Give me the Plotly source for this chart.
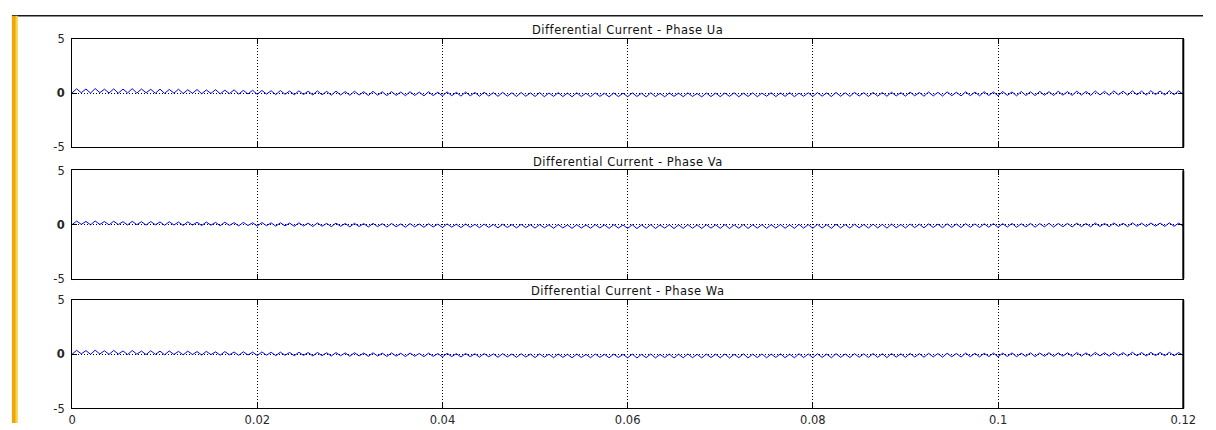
import plotly.graph_objects as go

# ---- data -----------------------------------------------------------------
# Differential current samples (A), one value every half cycle of the ripple,
# starting at t = 0 s and ending at t = 0.12 s.
SAMPLE_STEP = 0.0005

phase_ua = [
    0.02, 0.40, 0.03, 0.38, 0.00, 0.42, 0.04, 0.36, 0.01, 0.39, -0.01, 0.37, 0.02, 0.41, 0.00, 0.38, 0.03, 0.35, -0.02, 0.37,
    -0.03, 0.34, 0.00, 0.36, -0.04, 0.31, -0.02, 0.33, -0.06, 0.29, -0.03, 0.32, -0.07, 0.27, -0.05, 0.30, -0.09, 0.25, -0.08, 0.26,
    -0.12, 0.25, -0.09, 0.22, -0.14, 0.24, -0.11, 0.19, -0.15, 0.21, -0.13, 0.17, -0.17, 0.20, -0.15, 0.16, -0.19, 0.18, -0.17, 0.14,
    -0.20, 0.17, -0.18, 0.13, -0.22, 0.16, -0.19, 0.12, -0.23, 0.14, -0.21, 0.10, -0.24, 0.13, -0.22, 0.09, -0.25, 0.12, -0.23, 0.08,
    -0.26, 0.11, -0.24, 0.07, -0.28, 0.10, -0.25, 0.06, -0.29, 0.08, -0.27, 0.05, -0.30, 0.07, -0.28, 0.03, -0.31, 0.06, -0.29, 0.02,
    -0.31, 0.05, -0.33, 0.01, -0.30, 0.04, -0.32, 0.00, -0.34, 0.03, -0.31, -0.01, -0.33, 0.02, -0.30, -0.02, -0.34, 0.01, -0.32, -0.01,
    -0.33, 0.02, -0.31, -0.01, -0.35, 0.03, -0.32, -0.02, -0.34, 0.01, -0.30, -0.01, -0.33, 0.02, -0.31, -0.03, -0.35, 0.01, -0.32, 0.00,
    -0.33, 0.01, -0.30, 0.03, -0.34, -0.01, -0.31, 0.02, -0.33, 0.00, -0.29, 0.03, -0.32, 0.01, -0.30, 0.04, -0.33, 0.00, -0.29, 0.03,
    -0.31, 0.05, -0.28, 0.02, -0.32, 0.06, -0.29, 0.03, -0.30, 0.07, -0.27, 0.04, -0.31, 0.06, -0.28, 0.05, -0.29, 0.08, -0.26, 0.04,
    -0.28, 0.09, -0.25, 0.06, -0.29, 0.10, -0.26, 0.07, -0.27, 0.11, -0.24, 0.08, -0.26, 0.12, -0.23, 0.09, -0.25, 0.13, -0.22, 0.10,
    -0.24, 0.14, -0.21, 0.11, -0.25, 0.15, -0.22, 0.12, -0.23, 0.16, -0.20, 0.13, -0.22, 0.17, -0.19, 0.14, -0.21, 0.18, -0.18, 0.15,
    -0.21, 0.19, -0.17, 0.16, -0.20, 0.20, -0.16, 0.17, -0.19, 0.21, -0.15, 0.18, -0.18, 0.22, -0.14, 0.19, -0.17, 0.21, -0.15, 0.20,
    -0.12,
]

phase_va = [
    0.00, 0.33, 0.03, 0.30, -0.01, 0.34, 0.02, 0.29, -0.02, 0.32, 0.01, 0.28, -0.03, 0.31, 0.00, 0.27, -0.04, 0.29, -0.01, 0.25,
    -0.06, 0.27, -0.03, 0.24, -0.07, 0.26, -0.04, 0.22, -0.08, 0.24, -0.05, 0.21, -0.10, 0.23, -0.07, 0.19, -0.11, 0.21, -0.08, 0.18,
    -0.13, 0.20, -0.10, 0.17, -0.14, 0.18, -0.11, 0.15, -0.15, 0.17, -0.12, 0.14, -0.17, 0.16, -0.14, 0.12, -0.18, 0.14, -0.15, 0.11,
    -0.20, 0.13, -0.17, 0.10, -0.21, 0.12, -0.18, 0.09, -0.22, 0.11, -0.19, 0.07, -0.23, 0.10, -0.20, 0.06, -0.24, 0.08, -0.21, 0.05,
    -0.26, 0.07, -0.23, 0.04, -0.27, 0.06, -0.24, 0.03, -0.28, 0.05, -0.25, 0.02, -0.29, 0.04, -0.26, 0.01, -0.30, 0.03, -0.27, 0.00,
    -0.32, 0.02, -0.29, -0.01, -0.33, 0.01, -0.30, -0.02, -0.34, 0.00, -0.31, -0.03, -0.33, 0.01, -0.30, -0.02, -0.34, 0.00, -0.31, -0.03,
    -0.34, 0.00, -0.36, -0.02, -0.33, 0.01, -0.35, -0.03, -0.32, 0.00, -0.36, -0.01, -0.34, 0.01, -0.33, -0.02, -0.35, 0.00, -0.32, -0.01,
    -0.34, 0.01, -0.36, -0.02, -0.33, 0.02, -0.35, -0.01, -0.32, 0.01, -0.34, 0.00, -0.31, 0.02, -0.33, -0.01, -0.34, 0.03, -0.32, 0.01,
    -0.33, 0.03, -0.31, 0.00, -0.34, 0.04, -0.30, 0.01, -0.32, 0.04, -0.29, 0.02, -0.31, 0.05, -0.30, 0.03, -0.32, 0.05, -0.28, 0.02,
    -0.30, 0.06, -0.27, 0.04, -0.29, 0.07, -0.26, 0.05, -0.28, 0.08, -0.25, 0.06, -0.27, 0.09, -0.24, 0.07, -0.26, 0.08, -0.23, 0.10,
    -0.25, 0.09, -0.22, 0.11, -0.24, 0.08, -0.21, 0.12, -0.23, 0.10, -0.20, 0.13, -0.22, 0.11, -0.19, 0.12, -0.21, 0.14, -0.18, 0.11,
    -0.20, 0.15, -0.17, 0.12, -0.19, 0.16, -0.16, 0.13, -0.18, 0.17, -0.15, 0.14, -0.17, 0.16, -0.14, 0.15, -0.16, 0.17, -0.15, 0.14,
    -0.13,
]

phase_wa = [
    0.01, 0.37, 0.04, 0.34, 0.00, 0.38, 0.03, 0.33, -0.01, 0.36, 0.02, 0.31, -0.02, 0.35, 0.01, 0.30, -0.03, 0.33, 0.00, 0.29,
    -0.04, 0.31, -0.01, 0.27, -0.05, 0.29, -0.02, 0.25, -0.06, 0.27, -0.03, 0.23, -0.08, 0.25, -0.05, 0.21, -0.09, 0.23, -0.06, 0.20,
    -0.11, 0.22, -0.08, 0.19, -0.12, 0.20, -0.09, 0.17, -0.13, 0.19, -0.10, 0.16, -0.15, 0.17, -0.12, 0.14, -0.16, 0.16, -0.13, 0.13,
    -0.18, 0.15, -0.15, 0.12, -0.19, 0.14, -0.16, 0.11, -0.20, 0.13, -0.17, 0.10, -0.21, 0.12, -0.18, 0.08, -0.22, 0.11, -0.19, 0.07,
    -0.24, 0.09, -0.21, 0.06, -0.25, 0.08, -0.22, 0.05, -0.26, 0.07, -0.23, 0.04, -0.27, 0.06, -0.24, 0.03, -0.28, 0.05, -0.25, 0.02,
    -0.30, 0.04, -0.27, 0.01, -0.31, 0.03, -0.28, 0.00, -0.32, 0.02, -0.29, -0.01, -0.31, 0.03, -0.28, 0.00, -0.32, 0.02, -0.29, -0.01,
    -0.32, 0.02, -0.34, 0.00, -0.31, 0.03, -0.33, -0.01, -0.30, 0.02, -0.34, 0.01, -0.32, 0.03, -0.31, 0.00, -0.33, 0.02, -0.30, 0.01,
    -0.32, 0.03, -0.34, 0.00, -0.31, 0.04, -0.33, 0.01, -0.30, 0.03, -0.32, 0.02, -0.29, 0.04, -0.31, 0.01, -0.32, 0.05, -0.30, 0.03,
    -0.31, 0.05, -0.29, 0.02, -0.32, 0.06, -0.28, 0.03, -0.30, 0.06, -0.27, 0.04, -0.29, 0.07, -0.28, 0.05, -0.30, 0.07, -0.26, 0.04,
    -0.28, 0.08, -0.25, 0.06, -0.27, 0.09, -0.24, 0.07, -0.26, 0.10, -0.23, 0.08, -0.25, 0.11, -0.22, 0.09, -0.24, 0.10, -0.21, 0.12,
    -0.23, 0.11, -0.20, 0.13, -0.22, 0.10, -0.19, 0.14, -0.21, 0.12, -0.18, 0.15, -0.20, 0.13, -0.17, 0.14, -0.19, 0.16, -0.16, 0.13,
    -0.18, 0.17, -0.15, 0.14, -0.17, 0.18, -0.14, 0.15, -0.16, 0.19, -0.13, 0.16, -0.15, 0.18, -0.12, 0.17, -0.14, 0.19, -0.13, 0.16,
    -0.11,
]

panel_titles = [
    "Differential Current - Phase Ua",
    "Differential Current - Phase Va",
    "Differential Current - Phase Wa",
]
x_tick_values = [0, 0.02, 0.04, 0.06, 0.08, 0.1, 0.12]
x_tick_labels = ["0", "0.02", "0.04", "0.06", "0.08", "0.1", "0.12"]
y_tick_values = [-5, 0, 5]
y_tick_labels = ["-5", "<b>0</b>", "5"]

# ---- layout geometry (pixels) --------------------------------------------
W, H = 1216, 430
PLOT_LEFT, PLOT_RIGHT = 69, 1196
PANEL_TOPS = [33, 169, 303]
PANEL_HEIGHT = 112


def px_x(x):
    return x / W


def px_y(y):
    return 1 - y / H


time_axis = [round(i * SAMPLE_STEP, 6) for i in range(len(phase_ua))]
series = [phase_ua, phase_va, phase_wa]

fig = go.Figure()
annotations = []
TICK_FONT = dict(family="DejaVu Sans, Liberation Sans, sans-serif", size=11.5, color="#262626")
TITLE_FONT = dict(family="DejaVu Sans, Liberation Sans, sans-serif", size=11.5, color="#111111")

for k, (values, title, top) in enumerate(zip(series, panel_titles, PANEL_TOPS)):
    n = k + 1
    xa = "x" if n == 1 else f"x{n}"
    ya = "y" if n == 1 else f"y{n}"
    fig.add_trace(go.Scatter(
        x=time_axis, y=values, mode="lines",
        line=dict(color="#0000ff", width=1),
        xaxis=xa, yaxis=ya, showlegend=False, hoverinfo="skip",
    ))
    bottom = top + PANEL_HEIGHT
    axis_common = dict(
        showline=True, linecolor="#000000", linewidth=1, mirror="ticks",
        ticks="inside", ticklen=5, tickcolor="#000000", tickwidth=1,
        showgrid=True, gridcolor="#000000", gridwidth=1, griddash="1px,2px",
        zeroline=False, tickfont=TICK_FONT, fixedrange=True,
    )
    fig.layout[f"xaxis{'' if n == 1 else n}"] = dict(
        axis_common,
        domain=[px_x(PLOT_LEFT), px_x(PLOT_RIGHT)],
        range=[0, 0.12], anchor=ya,
        tickvals=x_tick_values,
        ticktext=x_tick_labels if n == 3 else [""] * len(x_tick_values),
        ticklabelstandoff=1,
    )
    fig.layout[f"yaxis{'' if n == 1 else n}"] = dict(
        axis_common,
        domain=[px_y(bottom), px_y(top)],
        range=[-5, 5], anchor=xa,
        tickvals=y_tick_values, ticktext=y_tick_labels,
        ticklabelstandoff=4,
    )
    annotations.append(dict(
        text=f'<span style="letter-spacing:0.5px">{title}</span>',
        xref="paper", yref="paper",
        x=px_x((PLOT_LEFT + PLOT_RIGHT) / 2), y=px_y(top - 9),
        xanchor="center", yanchor="middle", showarrow=False,
        font=TITLE_FONT,
    ))

shapes = [
    # page rule above the figure
    dict(type="line", xref="paper", yref="paper",
         x0=px_x(8), x1=1, y0=px_y(9), y1=px_y(9),
         line=dict(color="#1a1a1a", width=1.5)),
    # yellow margin bar
    dict(type="rect", xref="paper", yref="paper",
         x0=px_x(8), x1=px_x(12), y0=0, y1=px_y(9),
         fillcolor="#efa800", line=dict(width=0)),
    dict(type="rect", xref="paper", yref="paper",
         x0=px_x(12), x1=px_x(14), y0=0, y1=px_y(9),
         fillcolor="#f8d24a", line=dict(width=0)),
]
# heavier right border on each panel
for top in PANEL_TOPS:
    shapes.append(dict(type="line", xref="paper", yref="paper",
                       x0=px_x(PLOT_RIGHT), x1=px_x(PLOT_RIGHT),
                       y0=px_y(top + PANEL_HEIGHT), y1=px_y(top),
                       line=dict(color="#000000", width=2)))

fig.update_layout(
    width=W, height=H,
    margin=dict(l=0, r=0, t=0, b=0),
    paper_bgcolor="#ffffff", plot_bgcolor="#ffffff",
    annotations=annotations, shapes=shapes,
)

# keep the page flush with the window edges
PAGE_SCRIPT = (
    "document.documentElement.style.margin='0';"
    "document.body.style.margin='0';"
    "document.body.style.overflow='hidden';"
)
fig.write_html("out.html", config={"displayModeBar": False}, post_script=PAGE_SCRIPT)
